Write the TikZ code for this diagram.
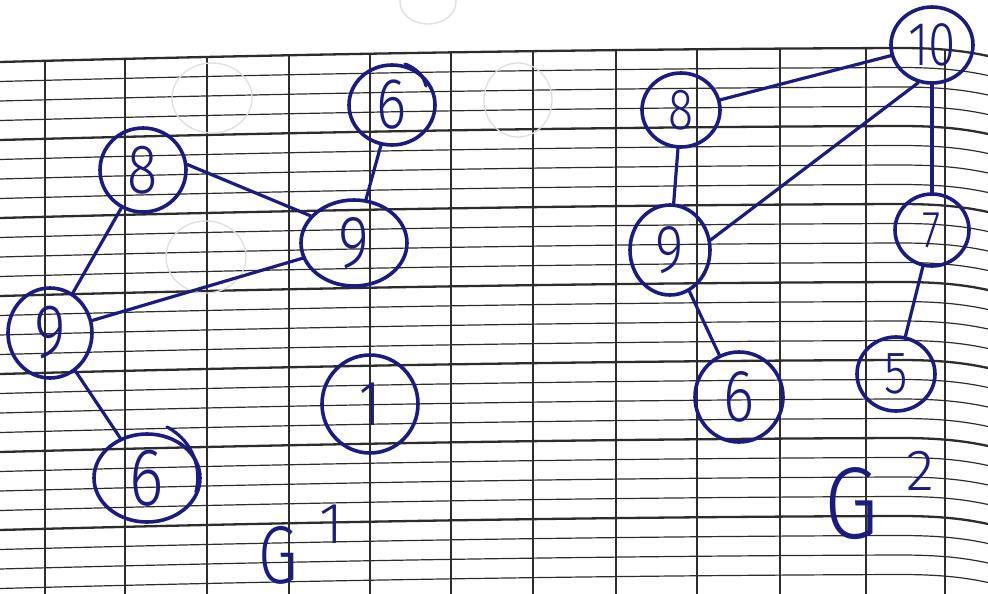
\documentclass[tikz,border=0pt]{standalone}
\usepackage{fontspec}
\usepackage{graphicx}
\setmainfont{Fira Sans Light}
\usetikzlibrary{shapes.geometric}

\definecolor{ink}{RGB}{26,28,130}
\definecolor{rule}{RGB}{45,45,45}
\definecolor{ghost}{RGB}{222,222,222}

% narrow hand-lettered digits
\newcommand{\hand}[1]{\scalebox{0.8}[1]{#1}}

\begin{document}
\begin{tikzpicture}[x=1pt,y=-1pt,
  vtx/.style={ellipse, draw=ink, line width=3.6pt, inner sep=0pt, text=ink},
  dsize/.style={font=\fontsize{#1}{#1}\selectfont},
  edge/.style={draw=ink, line width=3.2pt, line cap=round},
  inkstroke/.style={draw=ink, line width=3.2pt, line cap=round},
  lbl/.style={text=ink, inner sep=0pt, anchor=base west},
  minor/.style={draw=rule, line width=1.2pt},
  major/.style={draw=rule, line width=2.3pt},
  vrule/.style={draw=rule, line width=1.9pt},
  faint/.style={draw=ghost, line width=1.3pt}]

\useasboundingbox[fill=white] (0,0) rectangle (988,594);

% ruled paper: horizontal rules, every fourth one heavier
\foreach \k in {0,...,27}{
  \pgfmathsetmacro{\yy}{62+19.5*\k}
  \pgfmathtruncatemacro{\heavy}{mod(\k,4)==0 ? 1 : 0}
  \ifnum\heavy=1
    \draw[major] (0,\yy) .. controls (300,\yy-8) and (600,\yy-13) .. (900,\yy-14)
      .. controls (940,\yy-14) and (965,\yy-11) .. (988,\yy-6);
  \else
    \draw[minor] (0,\yy) .. controls (300,\yy-8) and (600,\yy-13) .. (900,\yy-14)
      .. controls (940,\yy-14) and (965,\yy-11) .. (988,\yy-6);
  \fi
}
% vertical rules, starting at the top rule
\begin{scope}
  \clip (0,62) .. controls (300,54) and (600,49) .. (900,48)
    .. controls (940,48) and (965,51) .. (988,56) -- (988,594) -- (0,594) -- cycle;
  \foreach \xx in {45,125,207,289,370,451,533,616,697,780,866,945}
    \draw[vrule] (\xx,40) -- (\xx,594);
\end{scope}

% show-through from the other side of the sheet
\draw[faint] (212,98) ellipse (40 and 35);
\draw[faint] (206,257) ellipse (40 and 36);
\draw[faint] (518,100) ellipse (34 and 37);
\draw[faint] (428,2) ellipse (28 and 22);

% ---------- G^1 ----------
\node[vtx, dsize=70, minimum width=86, minimum height=84] (a8)  at (143,170) {\hand{8}};
\node[vtx, dsize=72, minimum width=86, minimum height=80] (a6)  at (392,105) {\hand{6}};
\node[vtx, dsize=74, minimum width=106, minimum height=86] (a9r) at (354,243) {\hand{9}};
\node[vtx, dsize=76, minimum width=84, minimum height=90] (a9l) at (50,333)  {\hand{9}};
\node[vtx, dsize=82, minimum width=106, minimum height=88] (a6b) at (147,478) {\hand{6}};
\node[vtx, dsize=64, minimum width=96, minimum height=98] (a1)  at (370,404) {\hand{1}};

\draw[edge] (a8.7) -- (a9r.148);
\draw[edge] (a8) -- (a9l);
\draw[edge] (a6) -- (a9r);
\draw[edge] (a9l) -- (a9r);
\draw[edge] (a9l) -- (a6b);

% doubled pen strokes on the circles
\draw[inkstroke] (167,427) .. controls (188,438) and (203,462) .. (196,492);
\draw[inkstroke] (405,64) .. controls (416,68) and (424,76) .. (426,86);

\node[lbl, font=\fontsize{82}{82}\selectfont] (g1) at (258,583)
  {\scalebox{0.78}[1]{G}\hspace{22pt}\raisebox{40pt}{\fontsize{58}{58}\selectfont 1}};

% ---------- G^2 ----------
\node[vtx, dsize=58, minimum width=78, minimum height=74] (b8)  at (681,110) {\hand{8}};
\node[vtx, dsize=62, minimum width=82, minimum height=76] (b10) at (932,45)  {\hand{10}};
\node[vtx, dsize=68, minimum width=80, minimum height=90] (b9)  at (670,250) {\hand{9}};
\node[vtx, dsize=52, minimum width=74, minimum height=72] (b7)  at (932,230) {\hand{7}};
\node[vtx, dsize=74, minimum width=88, minimum height=90] (b6)  at (739,397) {\hand{6}};
\node[vtx, dsize=60, minimum width=78, minimum height=74] (b5)  at (896,374) {\hand{5}};

\draw[edge] (b8) -- (b10);
\draw[edge] (b8) -- (b9);
\draw[edge] (b9.14) -- (b10.250);
\draw[edge] (b10) -- (b7);
\draw[edge] (b9) -- (b6);
\draw[edge] (b7) -- (b5);

\node[lbl, font=\fontsize{102}{102}\selectfont] (g2) at (824,538)
  {\scalebox{0.86}[1]{G}\hspace{28pt}\raisebox{48pt}{\fontsize{58}{58}\selectfont 2}};

\end{tikzpicture}
\end{document}
